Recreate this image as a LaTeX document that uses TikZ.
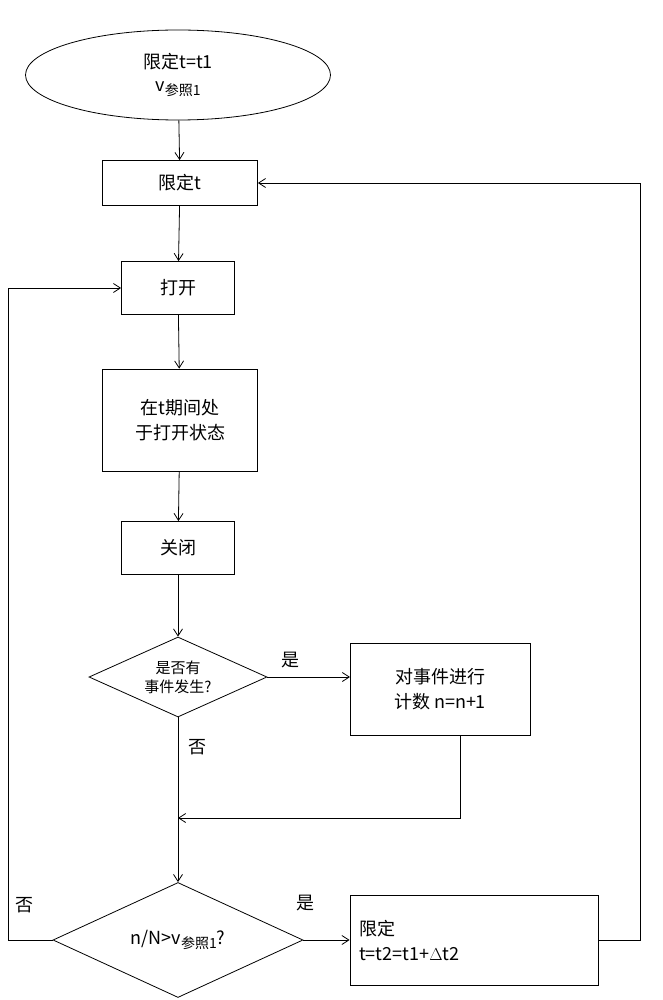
\documentclass[tikz,border=0pt]{standalone}
\usepackage{fontspec}
\setmainfont{Noto Sans CJK SC}
\usetikzlibrary{shapes.geometric,arrows.meta}
\newcommand{\refsub}{\raisebox{-4pt}{\fontsize{14}{16}\selectfont 参照1}}
\begin{document}
\begin{tikzpicture}[x=1pt,y=-1pt,font=\fontsize{18}{25}\selectfont,
 box/.style={draw,thick,minimum width=#1,align=center,inner sep=2pt},
 dia/.style={draw,thick,diamond,aspect=2.2,inner sep=1pt,align=center},
 ar/.style={thick,-{Straight Barb[length=7pt,width=9pt]}},
 ln/.style={thick}]
\useasboundingbox (0,0) rectangle (662,1000);
\node[draw,thick,ellipse,minimum width=305,minimum height=90,align=center] (s) at (178,75) {限定t=t1\\[-2pt]v\refsub};
\node[box=155,minimum height=45] (a) at (180,183) {限定t};
\node[box=113,minimum height=53] (b) at (178,288) {打开};
\node[box=155,minimum height=102] (c) at (180,420) {在t期间处\\于打开状态};
\node[box=113,minimum height=53] (d) at (178,548) {关闭};
\node[dia,minimum width=178,minimum height=80,font=\fontsize{15}{19}\selectfont] (e) at (178,677) {是否有\\事件发生?};
\node[box=180,minimum height=92] (f) at (440,689) {对事件进行\\计数 n=n+1};
\node[dia,minimum width=250,minimum height=115] (g) at (178,940) {n/N>v\refsub?};
\node[draw,thick,minimum width=248,minimum height=90,text width=230,align=left] (h) at (474,940) {限定\\t=t2=t1+$\Delta$t2};
\coordinate (m) at (178,818);
\coordinate (fo) at (460,735);
\coordinate (fi) at (350,677);
\draw[ar] (s) -- (a);
\draw[ar] (a) -- (b);
\draw[ar] (b) -- (c);
\draw[ar] (c) -- (d);
\draw[ar] (d) -- (e);
\draw[ar] (e.east) -- (fi);
\draw[ln] (e) -- (m);
\draw[ar] (m) -- (g);
\draw[ar] (fo) |- (m);
\draw[ar] (g) -- (h);
\draw[ar] (h.east) -- ++(42,0) |- (a.east);
\draw[ar] (g.west) -- (8,940) |- (b.west);
\node (l1) at (290,660) {是};
\node (l2) at (197,747) {否};
\node (l3) at (24,905) {否};
\node (l4) at (305,903) {是};
\end{tikzpicture}
\end{document}
